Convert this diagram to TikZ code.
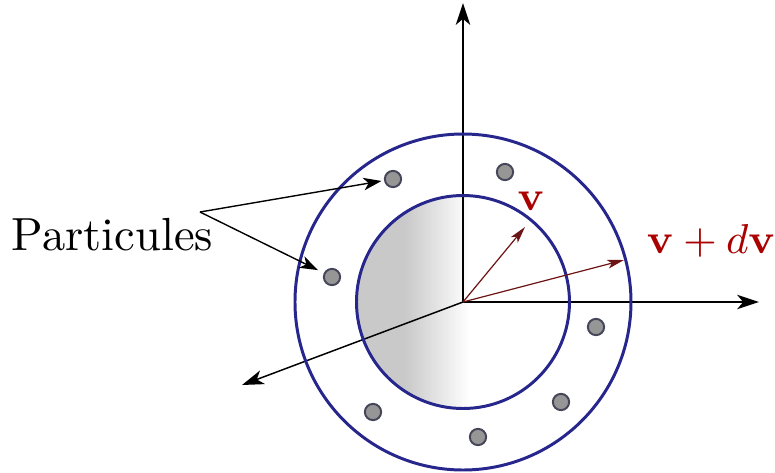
\documentclass[tikz,border=0pt]{standalone}
\usetikzlibrary{arrows.meta}
\definecolor{circblue}{RGB}{38,38,140}
\definecolor{labred}{RGB}{170,0,0}
\definecolor{vecred}{RGB}{110,20,20}
\definecolor{partfill}{RGB}{150,150,150}
\definecolor{partline}{RGB}{70,70,90}
\pgfdeclarehorizontalshading{coreshade}{100bp}{color(0bp)=(black!21); color(36.5bp)=(black!21); color(51.5bp)=(white); color(100bp)=(white)}
\begin{document}
\begin{tikzpicture}[x=0.2153pt,y=-0.2153pt,
  axis/.style={line width=0.32pt,-{Stealth[length=4.7pt,width=3.1pt,inset=1.3pt]}},
  pointer/.style={line width=0.3pt,-{Stealth[length=3.9pt,width=2.7pt,inset=1.1pt]}},
  vec/.style={vecred,line width=0.26pt,-{Stealth[length=3.6pt,width=1.9pt,inset=0.9pt]}},
  ring/.style={circblue,line width=0.64pt},
  particle/.style={circle,draw=partline,fill=partfill,line width=0.42pt,minimum size=3.5pt,inner sep=0pt},
  lab/.style={text=labred,inner sep=0pt}]
\useasboundingbox (0,0) rectangle (775,473);
\coordinate (O) at (463,302);
\shade[shading=coreshade] (O) circle (106.5);
\coordinate (ytip) at (463,3);
\coordinate (xtip) at (759,302);
\coordinate (ztip) at (242,385);
\draw[axis] (O) -- (ytip);
\draw[axis] (O) -- (xtip);
\draw[axis] (O) -- (ztip);
\draw[ring] (O) circle (106.5);
\draw[ring] (O) circle (168);
\coordinate (vtip) at (525,227);
\coordinate (vdvtip) at (624,260);
\draw[vec] (O) -- (vtip);
\draw[vec] (O) -- (vdvtip);
\node[particle] (p1) at (393,179) {};
\node[particle] (p2) at (332,277) {};
\node[particle] (p3) at (505,172) {};
\node[particle] (p4) at (596,327) {};
\node[particle] (p5) at (561,402) {};
\node[particle] (p6) at (478,437) {};
\node[particle] (p7) at (373,412) {};
\node[anchor=base west,inner sep=0pt] (ptxt) at (11,250) {Particules};
\coordinate (pstart) at (200,212);
\draw[pointer,shorten >=0.55pt] (pstart) -- (p1);
\draw[pointer,shorten >=1.4pt] (pstart) -- (p2);
\node[lab,anchor=base] (vlab) at (531,210.5) {\fontsize{8.85}{10}\selectfont$\mathbf{v}$};
\node[lab,anchor=base west] (vdvlab) at (646,253) {\fontsize{8.85}{10}\selectfont$\mathbf{v}+d\mathbf{v}$};
\end{tikzpicture}
\end{document}
